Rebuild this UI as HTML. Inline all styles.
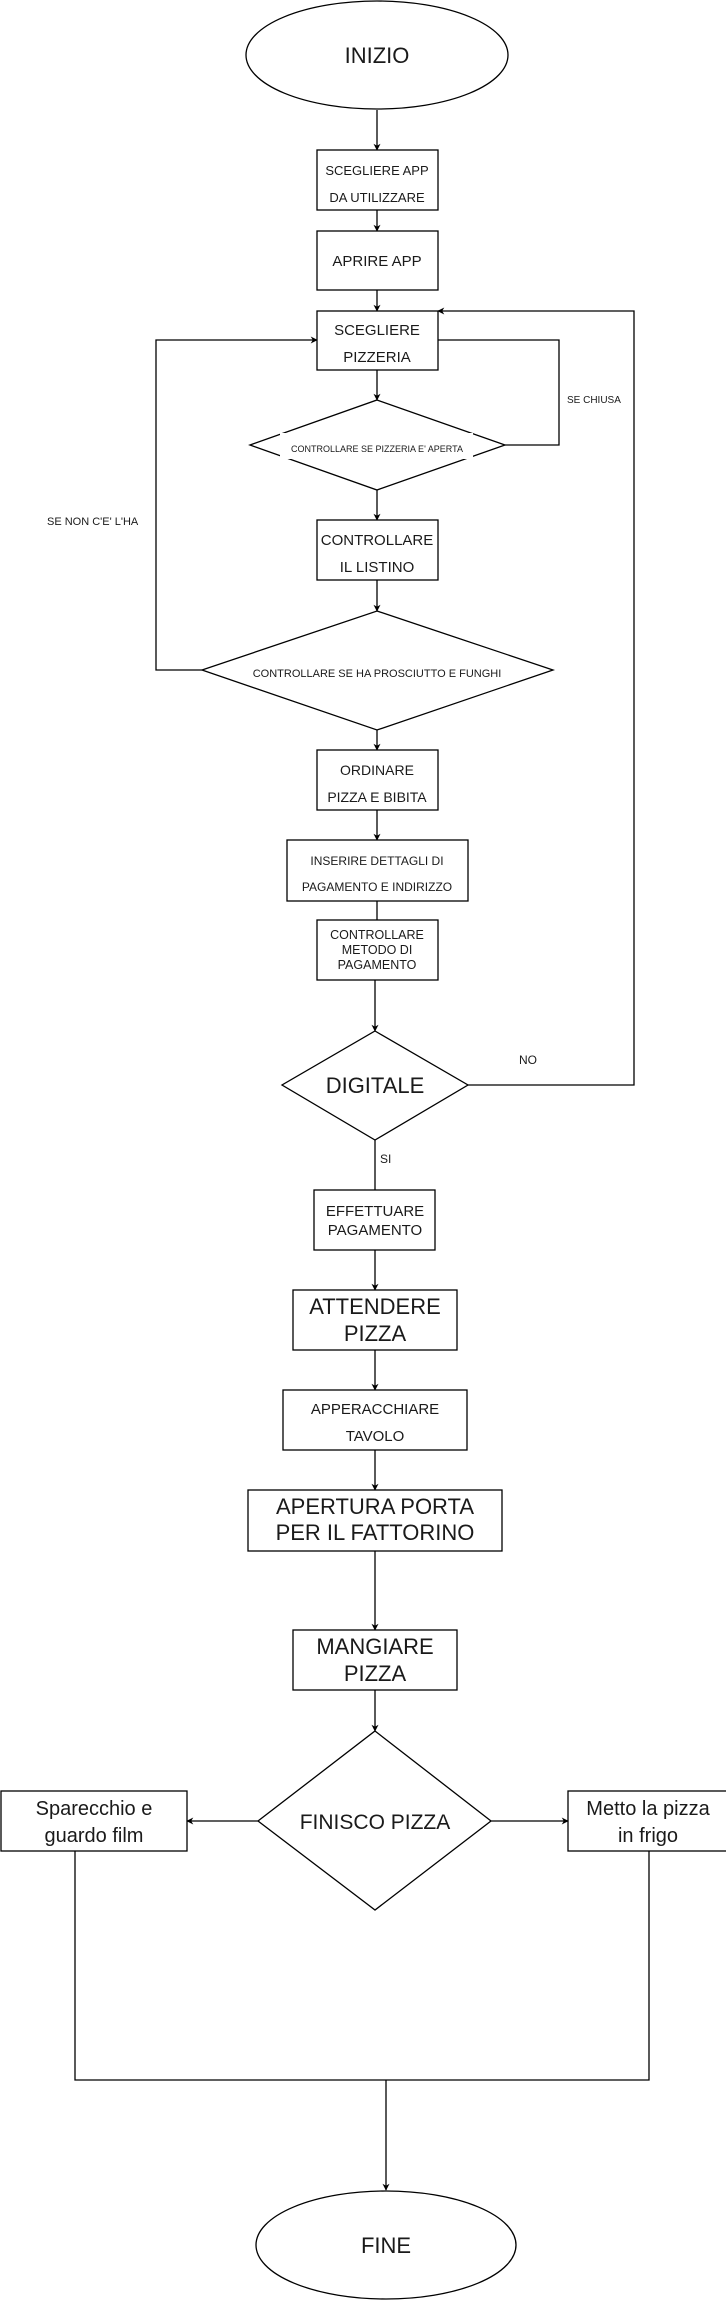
<!DOCTYPE html>
<html><head><meta charset="utf-8"><style>
html,body{margin:0;padding:0;background:#fff}
svg{display:block}
text{font-family:"Liberation Sans",Arial,sans-serif;fill:#1a1a1a}
</style></head><body>
<svg width="726" height="2301" viewBox="0 0 726 2301" xmlns="http://www.w3.org/2000/svg">
<defs>
<marker id="a" viewBox="0 0 10 10" refX="9" refY="5" markerWidth="7" markerHeight="7" orient="auto" markerUnits="userSpaceOnUse"><path d="M0,0 L10,5 L0,10 L3,5 z" fill="#000"/></marker>
</defs>
<g fill="none" stroke="#000" stroke-width="1.3">
<ellipse cx="377" cy="55" rx="131" ry="54"/>
<line x1="377" y1="110" x2="377" y2="150" marker-end="url(#a)"/>
<rect x="317" y="150" width="121" height="60"/>
<line x1="377" y1="210" x2="377" y2="231" marker-end="url(#a)"/>
<rect x="317" y="231" width="121" height="59"/>
<line x1="377" y1="290" x2="377" y2="311" marker-end="url(#a)"/>
<rect x="317" y="311" width="121" height="59"/>
<polyline points="438,340 559,340 559,445 505,445"/>
<line x1="377" y1="370" x2="377" y2="400" marker-end="url(#a)"/>
<polygon points="377,400 505,445 377,490 250,445"/>
<line x1="377" y1="490" x2="377" y2="520" marker-end="url(#a)"/>
<rect x="317" y="520" width="121" height="60"/>
<line x1="377" y1="580" x2="377" y2="611" marker-end="url(#a)"/>
<polygon points="377,611 553,670 377,730 202,670"/>
<polyline points="202,670 156,670 156,340 317,340" marker-end="url(#a)"/>
<line x1="377" y1="730" x2="377" y2="750" marker-end="url(#a)"/>
<rect x="317" y="750" width="121" height="60"/>
<line x1="377" y1="810" x2="377" y2="840" marker-end="url(#a)"/>
<rect x="287" y="840" width="181" height="61"/>
<line x1="377" y1="901" x2="377" y2="920"/>
<rect x="317" y="920" width="121" height="60"/>
<line x1="375" y1="980" x2="375" y2="1031" marker-end="url(#a)"/>
<polygon points="375,1031 468,1085 375,1140 282,1085"/>
<polyline points="468,1085 634,1085 634,311 438,311" marker-end="url(#a)"/>
<line x1="375" y1="1140" x2="375" y2="1190"/>
<rect x="314" y="1190" width="121" height="60"/>
<line x1="375" y1="1250" x2="375" y2="1290" marker-end="url(#a)"/>
<rect x="293" y="1290" width="164" height="60"/>
<line x1="375" y1="1350" x2="375" y2="1390" marker-end="url(#a)"/>
<rect x="283" y="1390" width="184" height="60"/>
<line x1="375" y1="1450" x2="375" y2="1490" marker-end="url(#a)"/>
<rect x="248" y="1490" width="254" height="61"/>
<line x1="375" y1="1551" x2="375" y2="1630" marker-end="url(#a)"/>
<rect x="293" y="1630" width="164" height="60"/>
<line x1="375" y1="1690" x2="375" y2="1731" marker-end="url(#a)"/>
<polygon points="375,1731 491,1821 375,1910 258,1821"/>
<line x1="258" y1="1821" x2="187" y2="1821" marker-end="url(#a)"/>
<line x1="491" y1="1821" x2="568" y2="1821" marker-end="url(#a)"/>
<rect x="1" y="1791" width="186" height="60"/>
<rect x="568" y="1791" width="161" height="60"/>
<polyline points="75,1851 75,2080 649,2080 649,1851"/>
<line x1="386" y1="2080" x2="386" y2="2190" marker-end="url(#a)"/>
<ellipse cx="386" cy="2245" rx="130" ry="54"/>
</g>
<rect x="280" y="433" width="193" height="26" fill="#fff"/>
<g text-anchor="middle">
<text x="377" y="63" font-size="22">INIZIO</text>
<text x="377" y="175" font-size="13">SCEGLIERE APP</text>
<text x="377" y="202" font-size="13">DA UTILIZZARE</text>
<text x="377" y="266" font-size="15">APRIRE APP</text>
<text x="377" y="335" font-size="15">SCEGLIERE</text>
<text x="377" y="362" font-size="15">PIZZERIA</text>
<text x="377" y="452" font-size="9">CONTROLLARE SE PIZZERIA E' APERTA</text>
<text x="377" y="545" font-size="15">CONTROLLARE</text>
<text x="377" y="572" font-size="15">IL LISTINO</text>
<text x="377" y="677" font-size="11">CONTROLLARE SE HA PROSCIUTTO E FUNGHI</text>
<text x="377" y="775" font-size="14">ORDINARE</text>
<text x="377" y="802" font-size="14">PIZZA E BIBITA</text>
<text x="377" y="865" font-size="12">INSERIRE DETTAGLI DI</text>
<text x="377" y="891" font-size="12">PAGAMENTO E INDIRIZZO</text>
<text x="377" y="939" font-size="12.5">CONTROLLARE</text>
<text x="377" y="954" font-size="12.5">METODO DI</text>
<text x="377" y="969" font-size="12.5">PAGAMENTO</text>
<text x="375" y="1093" font-size="22">DIGITALE</text>
<text x="375" y="1216" font-size="15">EFFETTUARE</text>
<text x="375" y="1235" font-size="15">PAGAMENTO</text>
<text x="375" y="1314" font-size="22">ATTENDERE</text>
<text x="375" y="1341" font-size="22">PIZZA</text>
<text x="375" y="1414" font-size="15">APPERACCHIARE</text>
<text x="375" y="1441" font-size="15">TAVOLO</text>
<text x="375" y="1514" font-size="22">APERTURA PORTA</text>
<text x="375" y="1540" font-size="22">PER IL FATTORINO</text>
<text x="375" y="1654" font-size="22">MANGIARE</text>
<text x="375" y="1681" font-size="22">PIZZA</text>
<text x="375" y="1829" font-size="21">FINISCO PIZZA</text>
<text x="94" y="1815" font-size="20">Sparecchio e</text>
<text x="94" y="1842" font-size="20">guardo film</text>
<text x="648" y="1815" font-size="20">Metto la pizza</text>
<text x="648" y="1842" font-size="20">in frigo</text>
<text x="386" y="2253" font-size="22">FINE</text>
</g>
<text x="567" y="403" font-size="10">SE CHIUSA</text>
<text x="47" y="525" font-size="11">SE NON C'E' L'HA</text>
<text x="519" y="1064" font-size="12">NO</text>
<text x="380" y="1163" font-size="12">SI</text>
</svg>
</body></html>
